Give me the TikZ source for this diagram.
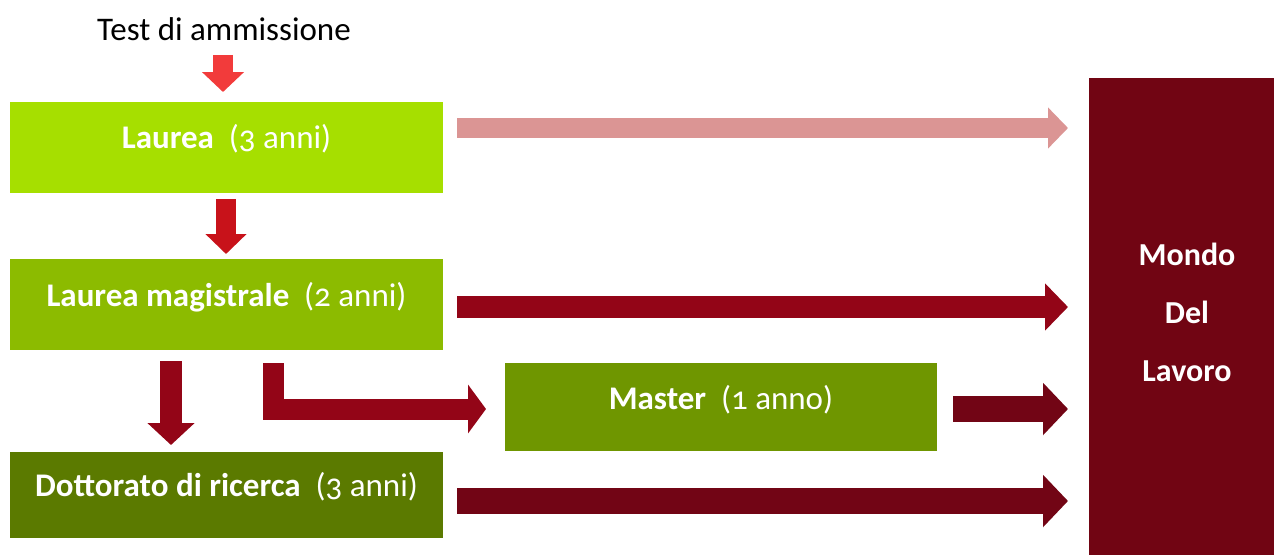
\documentclass[tikz,border=0pt]{standalone}
\usepackage{fontspec}
\setmainfont{Carlito}[Numbers=OldStyle]
\usetikzlibrary{arrows.meta,calc}
\definecolor{cTest}{HTML}{F23B3B}
\definecolor{cL}{HTML}{A6DF00}
\definecolor{cLM}{HTML}{8CBB00}
\definecolor{cMa}{HTML}{6F9600}
\definecolor{cDo}{HTML}{5B7A00}
\definecolor{cMo}{HTML}{710513}
\definecolor{cA1}{HTML}{C8121A}
\definecolor{cA2}{HTML}{DB9594}
\definecolor{cA3}{HTML}{930517}
\definecolor{cA4}{HTML}{720515}
\tikzset{
  box/.style={anchor=north west, inner sep=0pt, outer sep=0pt, text=white, font=\fontsize{33}{38}\selectfont},
  fat/.style={line cap=butt, line join=miter},
}
\begin{document}
\begin{tikzpicture}[x=1pt,y=-1pt]
\useasboundingbox (0,0) rectangle (1274,555);
% boxes
\node[box, fill=cL, minimum width=433pt, minimum height=91pt] (laurea) at (10,102) {};
\node[box] at (226.5,139) [anchor=center] (tl) {\textbf{Laurea}\ \ (3 anni)};
\node[box, fill=cLM, minimum width=433pt, minimum height=91pt] (lm) at (10,259) {};
\node[box] at (226.5,297) [anchor=center] (tlm) {\textbf{Laurea magistrale}\ \ (2 anni)};
\node[box, fill=cMa, minimum width=432pt, minimum height=88pt] (master) at (505,363) {};
\node[box] at (721,400) [anchor=center] (tma) {\textbf{Master}\ \ (1 anno)};
\node[box, fill=cDo, minimum width=433pt, minimum height=86pt] (dott) at (10,452) {};
\node[box] at (226.5,487) [anchor=center] (tdo) {\textbf{Dottorato di ricerca}\ \ (3 anni)};
\node[box, fill=cMo, minimum width=185pt, minimum height=477pt] (mondo) at (1089,78) {};
\node[box, anchor=center, align=center, font=\fontsize{32}{58}\selectfont\bfseries] (tmo) at (1187,312) {Mondo\\Del\\Lavoro};
\node[anchor=center, inner sep=0pt, font=\fontsize{33}{38}\selectfont] (test) at (224,29) {Test di ammissione};
% connectors
\draw[fat, cTest, line width=20pt, -{Triangle[length=20pt,width=41pt]}]
  ($(test.south)+(-1,14)$) -- ($(laurea.north)+(-3.5,-10)$);
\draw[fat, cA1, line width=20pt, -{Triangle[length=20pt,width=40pt]}]
  ($(laurea.south)+(-0.5,6)$) -- ($(lm.north)+(-0.5,-5)$);
\draw[fat, cA2, line width=20pt, -{Triangle[length=20pt,width=40pt]}]
  ($(laurea.east)+(14,-19.5)$) -- ($(mondo.west)+(-21,-188.5)$);
\draw[fat, cA3, line width=22pt, -{Triangle[length=23pt,width=46pt]}]
  ($(lm.east)+(14,2.5)$) -- ($(mondo.west)+(-21,-9.5)$);
\draw[fat, cA3, line width=22pt, -{Triangle[length=22pt,width=46pt]}]
  ($(lm.south)+(-55.5,11)$) -- ($(dott.north)+(-55.5,-7)$);
\draw[fat, cA3, line width=21pt, -{Triangle[length=18pt,width=48pt]}]
  ($(lm.south)+(46.5,13)$) |- ($(master.west)+(-19,2)$);
\draw[fat, cA4, line width=26pt, -{Triangle[length=25pt,width=51pt]}]
  ($(master.east)+(16,2)$) -- ($(mondo.west)+(-21,92.5)$);
\draw[fat, cA4, line width=26pt, -{Triangle[length=25pt,width=51pt]}]
  ($(dott.east)+(14,6)$) -- ($(mondo.west)+(-21,184.5)$);
\end{tikzpicture}
\end{document}
